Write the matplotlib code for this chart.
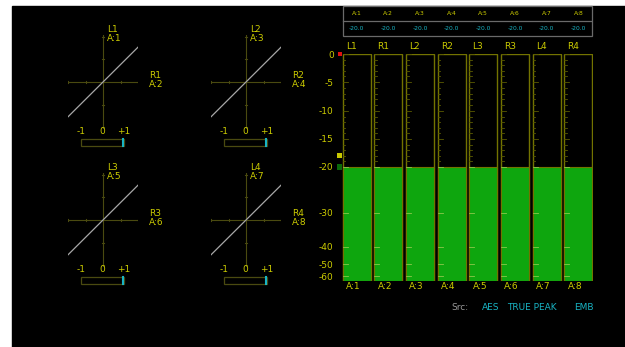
import matplotlib
matplotlib.use('agg')
import matplotlib.pyplot as plt
import matplotlib.patches as patches
import numpy as np

# channel data
channels = ['L1', 'R1', 'L2', 'R2', 'L3', 'R3', 'L4', 'R4']
inputs = ['A:1', 'A:2', 'A:3', 'A:4', 'A:5', 'A:6', 'A:7', 'A:8']
levels = [-20.0, -20.0, -20.0, -20.0, -20.0, -20.0, -20.0, -20.0]

# lissajous pairs (left, right) and correlation
pairs = [('L1', 'A:1', 'R1', 'A:2'), ('L2', 'A:3', 'R2', 'A:4'),
         ('L3', 'A:5', 'R3', 'A:6'), ('L4', 'A:7', 'R4', 'A:8')]
correlation = [1.0, 1.0, 1.0, 1.0]
trace = [-1.0, 1.0]

# meter scale
scale_ticks = [0, -5, -10, -15, -20, -30, -40, -50, -60]
scale_db = [-63, -60, -50, -40, -30, -20, -15, -10, -5, 0]
scale_pos = [281, 276, 264, 247, 213, 167, 139, 111, 82, 54]
ref_levels = [0, -18, -20]
ref_colors = ['#e01010', '#c8c800', '#0a6a0a']

src_labels = ['AES', 'TRUE PEAK', 'EMB']

W, H = 625, 347
YEL = '#cccc00'
OLIVE = '#737300'
CYAN = '#18b4c4'
GREEN = '#0ea60e'
AXC = '#4a4a10'


def px_axes(fig, x0, y0, x1, y1):
    # axes from pixel box (top-left origin)
    ax = fig.add_axes([x0 / W, 1 - y1 / H, (x1 - x0) / W, (y1 - y0) / H])
    ax.set_facecolor('none')
    ax.axis('off')
    return ax


fig = plt.figure(figsize=(W / 100, H / 100), dpi=100)
fig.patch.set_facecolor('white')
fig.add_artist(patches.Rectangle((12 / W, 0), 1, 1 - 6 / H,
                                 transform=fig.transFigure, color='black', zorder=-10))

# lissajous panels
centers = [(103, 82), (246, 82), (103, 220), (246, 220)]
for (cx, cy), (ln, la, rn, ra), corr in zip(centers, pairs, correlation):
    ax = px_axes(fig, cx - 35, cy - 47, cx + 35, cy + 47)
    ax.set_xlim(-1, 1)
    ax.set_ylim(-1.35, 1.35)
    ax.axhline(0, color=AXC, lw=0.8)
    ax.axvline(0, color=AXC, lw=0.8)
    for v in (-1, -0.5, 0.5, 1):
        ax.plot([v, v], [-0.04, 0.04], color=AXC, lw=0.8)
        ax.plot([-0.03, 0.03], [v * 1.3, v * 1.3], color=AXC, lw=0.8)
    ax.plot(trace, trace, color='#a8a8a8', lw=0.9)
    fig.text((cx + 4) / W, 1 - (cy - 39) / H, ln + '\n' + la, color=YEL,
             fontsize=6.5, ha='left', va='bottom', linespacing=1.0)
    fig.text((cx + 46) / W, 1 - (cy - 2) / H, rn + '\n' + ra, color=YEL,
             fontsize=6.5, ha='left', va='center', linespacing=1.0)
    # correlation bar
    cax = px_axes(fig, cx - 22, cy + 57, cx + 21, cy + 64)
    cax.set_xlim(-1, 1)
    cax.set_ylim(0, 1)
    cax.add_patch(patches.Rectangle((-1, 0), 2, 1, fill=False, ec=AXC, lw=0.9,
                                    clip_on=False))
    cax.plot([corr * 0.97, corr * 0.97], [0.05, 0.95], color=CYAN, lw=1.5,
             clip_on=False)
    for v, t in zip([-1, 0, 1], ['-1', '0', '+1']):
        cax.text(v, 1.4, t, color=YEL, fontsize=6.5, ha='center', va='bottom')


# level meters
def fwd(v):
    return -np.interp(v, scale_db, scale_pos)


def inv(v):
    return np.interp(-v, scale_pos[::-1], scale_db[::-1])


n = len(channels)
bw = 28 / 31.71
mx = fig.add_axes([342 / W, 1 - 281 / H, 251 / W, 227 / H])
mx.set_facecolor('none')
mx.set_yscale('function', functions=(fwd, inv))
mx.set_ylim(-63, 0)
mx.set_xlim(-bw / 2 - 0.02, n - 1 + bw / 2 + 0.02)
for s in mx.spines.values():
    s.set_visible(False)
mx.set_xticks([])
mx.set_yticks(scale_ticks)
mx.set_yticklabels([str(t) for t in scale_ticks], color=YEL, fontsize=6.5)
mx.tick_params(axis='y', length=0, pad=6)

x = np.arange(n)
mx.bar(x, [63] * n, bottom=-63, width=bw, fc='none', ec=OLIVE, lw=1.0)
mx.bar(x, np.array(levels) + 63, bottom=-63, width=bw, fc=GREEN, ec=OLIVE, lw=0.8)

minor = np.arange(0, -21, -1)
for i, lv in enumerate(levels):
    left = i - bw / 2
    for d in minor:
        ln_ = 0.16 if d % 5 == 0 else 0.08
        col = '#8cc84a' if d <= lv else '#5a5a00'
        mx.plot([left, left + ln_], [d, d], color=col, lw=0.6)
    for d in [-30, -40, -50, -60]:
        mx.plot([left, left + 0.16], [d, d], color='#8cc84a', lw=0.6)
    mx.annotate(channels[i], (left + 0.1, 0), xytext=(0, 2), textcoords='offset points',
                color=YEL, fontsize=6.5, ha='left', va='bottom', annotation_clip=False)
    mx.annotate(inputs[i], (left + 0.1, -63), xytext=(0, -1), textcoords='offset points',
                color=YEL, fontsize=6.5, ha='left', va='top', annotation_clip=False)

mx.scatter([-0.53] * len(ref_levels), ref_levels, marker='s', s=[10, 14, 14],
           c=ref_colors, clip_on=False, lw=0)

# top table
tx = px_axes(fig, 342, 6, 593, 36)
tx.set_xlim(-bw / 2 - 0.02, n - 1 + bw / 2 + 0.02)
tx.set_ylim(0, 2)
tx.add_patch(patches.Rectangle((-bw / 2, 0), n - 1 + bw, 2, fill=False,
                               ec='#6a6a6a', lw=0.9, clip_on=False))
tx.plot([-bw / 2, n - 1 + bw / 2], [1, 1], color='#6a6a6a', lw=0.9)
for i in range(n):
    tx.text(i, 1.5, inputs[i], color=YEL, fontsize=4.3, ha='center', va='center')
    tx.text(i, 0.5, '%.1f' % levels[i], color=CYAN, fontsize=4.3, ha='center', va='center')

# source line
fig.text(460 / W, 1 - 307 / H, 'Src:', color='#9a9a9a', fontsize=6.5, ha='center', va='center')
for xc, t in zip([491, 532, 584], src_labels):
    fig.text(xc / W, 1 - 307 / H, t, color=CYAN, fontsize=6.5, ha='center', va='center')

fig.savefig('out.png', dpi=100, facecolor=fig.get_facecolor())
